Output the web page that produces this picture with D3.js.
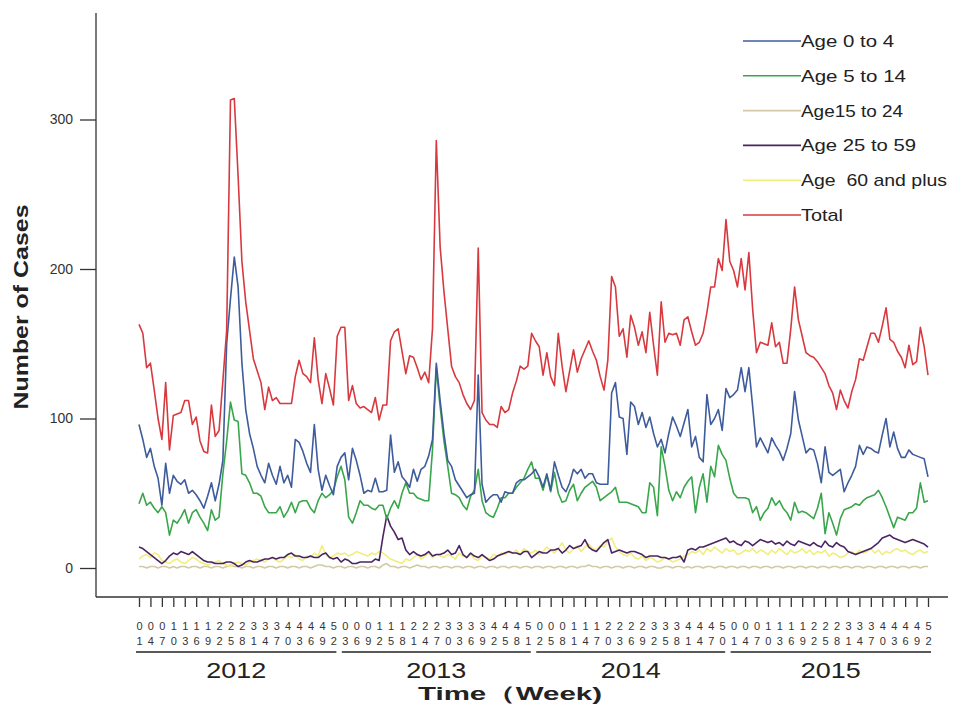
<!DOCTYPE html>
<html>
<head>
<meta charset="utf-8">
<script src="https://cdn.jsdelivr.net/npm/d3@7"></script>
<style>
  body { margin: 0; background: #fff; }
  svg { display: block; font-family: "Liberation Sans", Arial, sans-serif; }
</style>
</head>
<body>
<svg id="chart" width="957" height="708"></svg>
<script>
// weekly case counts, 2012 wk1 .. 2015 wk52 (208 weeks)
const years = ["2012", "2013", "2014", "2015"];
const yearTickCounts = [18, 17, 17, 18];

const tickLabels = [
  "01","04","07","10","13","16","19","22","25","28","31","34","37","40","43","46","49","52",
  "03","06","09","12","15","18","21","24","27","30","33","36","39","42","45","48","51",
  "02","05","08","11","14","17","20","23","26","29","32","35","38","41","44","47","50",
  "01","04","07","10","13","16","19","22","25","28","31","34","37","40","43","46","49","52"
];

const age0to4 = [
  96,86,74,80,68,60,42,70,50,62,58,56,59,50,52,49,
  45,40,48,57,45,56,72,150,180,208,188,137,106,90,80,68,
  62,57,70,62,56,68,57,62,54,86,84,78,70,64,96,66,
  52,62,55,49,68,74,77,59,80,72,62,50,52,51,60,51,
  51,52,89,64,71,61,58,54,66,58,66,68,75,86,137,112,
  90,72,68,59,55,51,47,49,50,129,56,44,47,49,49,44,
  51,50,50,57,59,59,61,63,66,61,54,63,52,71,62,54,
  51,57,66,63,66,60,63,63,57,56,56,56,117,124,101,100,
  76,111,108,96,104,94,101,90,81,86,77,90,101,95,88,97,
  106,81,88,74,71,116,96,100,106,92,120,114,116,119,134,118,
  134,108,81,87,82,77,87,82,78,72,80,90,118,99,88,77,
  80,79,70,57,81,64,62,64,66,51,57,62,68,82,76,81,
  80,78,77,89,100,81,91,80,74,74,79,76,75,74,73,61
];

const age5to14 = [
  43,50,42,44,40,37,41,37,22,32,30,34,39,30,37,39,
  34,30,25,39,32,34,63,85,111,99,98,63,62,57,50,50,
  48,41,37,37,37,41,34,38,44,37,44,45,45,40,37,45,
  50,47,49,52,61,68,59,34,30,37,45,42,42,40,39,42,
  42,33,40,45,40,50,57,50,50,47,46,45,45,79,134,108,
  85,68,50,49,47,42,39,48,52,66,45,37,35,34,40,47,
  47,50,50,54,57,60,66,71,60,60,52,62,51,64,50,44,
  45,52,56,45,50,54,56,58,54,45,47,49,51,54,44,44,
  44,43,42,41,37,37,57,54,35,81,68,52,45,51,47,54,
  58,61,37,54,63,44,68,61,82,76,72,60,50,47,47,47,
  46,37,41,32,37,40,47,42,45,40,37,32,44,37,38,37,
  35,33,40,50,23,37,30,22,33,39,40,41,43,42,45,47,
  48,49,52,47,41,34,27,34,33,32,37,37,40,57,44,45
];

const age15to24 = [
  1,1,0,1,1,0,1,1,0,1,0,1,1,0,1,1,
  0,1,1,0,1,1,0,1,2,1,1,0,1,1,0,1,
  1,0,1,1,0,1,1,0,1,1,0,1,1,0,1,2,
  2,1,1,0,1,1,0,1,1,0,1,1,0,1,1,0,
  2,3,1,1,0,1,1,0,1,2,1,1,0,1,1,0,
  1,1,0,1,1,0,1,1,0,1,1,0,1,1,0,1,
  1,0,1,1,0,1,1,0,1,1,0,1,1,0,1,1,
  0,1,1,0,1,1,2,1,1,0,1,1,0,1,1,0,
  1,1,0,1,1,0,1,1,0,0,1,1,0,1,1,0,
  1,0,1,1,0,1,1,0,1,1,0,1,1,0,1,1,
  0,1,1,0,1,1,0,1,1,0,1,1,0,1,1,0,
  1,1,0,1,1,0,1,1,0,1,1,0,1,1,0,1,
  1,0,1,1,0,1,1,0,1,1,0,1,1,0,1,1
];

const age25to59 = [
  14,13,11,9,7,5,3,5,8,10,9,11,10,9,11,9,
  7,5,4,4,3,3,3,4,4,3,1,2,4,5,4,4,
  5,6,6,7,6,7,7,9,10,8,8,7,7,8,7,7,
  9,10,7,6,7,4,6,5,3,3,4,4,4,4,6,5,
  21,35,28,24,19,20,12,9,11,9,8,9,11,8,9,9,
  10,12,9,10,15,9,7,10,8,7,9,7,5,6,8,9,
  10,11,10,10,9,11,11,7,9,11,10,10,12,12,13,10,
  12,15,13,14,15,19,14,12,11,14,17,19,10,11,12,11,
  10,11,11,10,9,7,8,8,8,7,7,6,7,7,8,4,
  12,13,12,14,14,15,16,17,18,19,20,17,18,16,15,18,
  17,15,17,19,18,17,18,16,17,15,18,16,15,18,17,16,
  15,17,15,14,18,15,14,17,15,14,11,10,9,10,11,12,
  13,15,17,20,21,22,20,19,18,17,18,19,18,17,16,14
];

const age60plus = [
  6,8,9,7,10,9,5,4,3,5,6,4,3,5,7,6,
  4,3,2,3,4,5,3,2,1,3,4,3,2,4,5,6,
  5,4,6,7,5,4,6,8,7,9,6,5,8,7,10,8,
  15,9,7,8,10,9,10,8,9,11,10,9,8,10,9,11,
  10,8,6,5,4,3,6,5,7,9,6,8,10,7,9,8,
  7,9,8,6,10,8,7,9,6,5,8,7,6,9,8,10,
  9,11,10,12,9,13,11,10,12,9,11,14,12,10,13,17,
  12,10,13,15,11,14,16,13,12,15,14,18,20,14,11,9,
  8,10,7,6,8,5,7,6,4,5,7,6,4,5,6,8,
  9,11,10,12,9,13,11,14,12,10,13,11,12,9,10,12,
  11,13,10,12,11,9,12,10,13,11,9,12,10,11,13,10,
  12,9,11,10,12,8,10,9,7,8,10,11,9,12,10,11,
  13,10,12,9,11,10,12,13,11,12,10,9,11,12,10,11
];

const total = [
  163,157,134,137,119,100,86,124,79,102,103,104,112,112,96,101,
  85,78,77,109,88,92,125,159,313,314,262,205,178,159,140,132,
  124,106,121,112,114,110,110,110,110,128,139,130,128,124,154,126,
  110,130,120,109,155,161,161,112,122,110,107,108,106,104,114,99,
  109,109,152,158,160,145,130,142,141,134,126,131,124,160,286,215,
  185,160,135,128,124,116,110,106,112,214,104,99,96,96,94,108,
  104,106,117,125,135,133,135,157,152,148,129,144,128,122,157,135,
  118,132,146,131,140,146,152,145,139,128,119,139,195,188,155,160,
  141,169,161,149,158,144,171,149,129,178,151,157,156,157,149,166,
  168,158,149,151,157,171,188,188,207,199,233,205,199,188,207,186,
  211,173,144,151,150,149,164,148,151,137,137,160,188,166,155,144,
  142,141,138,134,130,122,117,106,119,112,107,118,126,140,139,148,
  157,157,151,162,174,153,151,145,141,134,149,136,138,161,148,129
];

const seriesNames = ["Age 0 to 4", "Age 5 to 14", "Age15 to 24", "Age 25 to 59", "Age  60 and plus", "Total"];
const seriesColors = ["#3e5c9c", "#3aa64b", "#d3c9a6", "#4b2462", "#f1ee7e", "#d8393f"];
const seriesData = [age0to4, age5to14, age15to24, age25to59, age60plus, total];
const legendTextWidths = [93, 105, 102, 115, 146, 42];

seriesData.forEach((s, i) => {
  if (s.length !== 208) throw new Error(seriesNames[i] + " has " + s.length);
});

const svg = d3.select('#chart');

const x = d3.scaleLinear().domain([0, 207]).range([139, 928]);
const y = d3.scaleLinear().domain([0, 300]).range([568, 119.5]);

// axis lines
svg.append('line')
  .attr('x1', 96).attr('x2', 96).attr('y1', 13).attr('y2', 597)
  .attr('stroke', '#333').attr('stroke-width', 1.3);
svg.append('line')
  .attr('x1', 96).attr('x2', 948).attr('y1', 597).attr('y2', 597)
  .attr('stroke', '#333').attr('stroke-width', 1.3);

// y axis
const yAxis = svg.append('g')
  .attr('transform', 'translate(96,0)')
  .call(d3.axisLeft(y).tickValues([0, 100, 200, 300]).tickSize(16).tickPadding(7));
yAxis.select('.domain').remove();
yAxis.selectAll('line').attr('stroke', '#333').attr('stroke-width', 1.3);
yAxis.selectAll('text')
  .attr('font-size', 14).attr('fill', '#333')
  .attr('font-family', '"Liberation Sans", Arial, sans-serif');

svg.append('text')
  .attr('transform', 'translate(28,307) rotate(-90)')
  .attr('text-anchor', 'middle')
  .attr('font-size', 20).attr('font-weight', 'bold').attr('fill', '#222')
  .attr('textLength', 205).attr('lengthAdjust', 'spacingAndGlyphs')
  .text('Number of Cases');

// x axis: a tick every third week
const tickIdx = tickLabels.map((d, i) => i * 3);
const xAxis = svg.append('g')
  .attr('transform', 'translate(0,598)')
  .call(d3.axisBottom(x).tickValues(tickIdx).tickSize(9).tickFormat(''));
xAxis.select('.domain').remove();
xAxis.selectAll('line').attr('stroke', '#333').attr('stroke-width', 1.3);
xAxis.selectAll('.tick').each(function (d, i) {
  const t = d3.select(this);
  const lab = tickLabels[i];
  t.append('text').attr('y', 32).attr('fill', '#333').attr('font-size', 11)
    .attr('text-anchor', 'middle').text(lab[0]);
  t.append('text').attr('y', 47).attr('fill', '#333').attr('font-size', 11)
    .attr('text-anchor', 'middle').text(lab[1]);
});

// year groups
let start = 0;
years.forEach((yr, i) => {
  const first = tickIdx[start];
  const last = tickIdx[start + yearTickCounts[i] - 1];
  const x0 = x(first) - 3, x1 = x(last) + 3;
  svg.append('line')
    .attr('x1', x0).attr('x2', x1).attr('y1', 652).attr('y2', 652)
    .attr('stroke', '#222').attr('stroke-width', 1.5);
  svg.append('text')
    .attr('x', (x0 + x1) / 2).attr('y', 678)
    .attr('text-anchor', 'middle').attr('font-size', 22).attr('fill', '#222')
    .attr('textLength', 60).attr('lengthAdjust', 'spacingAndGlyphs')
    .text(yr);
  start += yearTickCounts[i];
});

svg.append('text')
  .attr('x', 510).attr('y', 700)
  .attr('text-anchor', 'middle').attr('font-size', 19).attr('font-weight', 'bold').attr('fill', '#222')
  .attr('textLength', 184).attr('lengthAdjust', 'spacingAndGlyphs')
  .text('Time（Week)');

// lines
const line = d3.line().x((d, i) => x(i)).y(d => y(d));
const drawOrder = [2, 4, 3, 1, 0, 5];
drawOrder.forEach(k => {
  svg.append('path')
    .datum(seriesData[k])
    .attr('d', line)
    .attr('fill', 'none')
    .attr('stroke', seriesColors[k])
    .attr('stroke-width', 1.6)
    .attr('stroke-linejoin', 'round');
});

// legend
const legend = svg.append('g');
seriesNames.forEach((name, i) => {
  const ly = 41 + i * 34.8;
  legend.append('line')
    .attr('x1', 743).attr('x2', 801).attr('y1', ly).attr('y2', ly)
    .attr('stroke', seriesColors[i]).attr('stroke-width', 1.6);
  legend.append('text')
    .attr('x', 801).attr('y', ly).attr('dy', '0.35em')
    .attr('font-size', 17).attr('fill', '#222')
    .attr('textLength', legendTextWidths[i]).attr('lengthAdjust', 'spacingAndGlyphs')
    .style('white-space', 'pre')
    .text(name);
});
</script>
</body>
</html>
